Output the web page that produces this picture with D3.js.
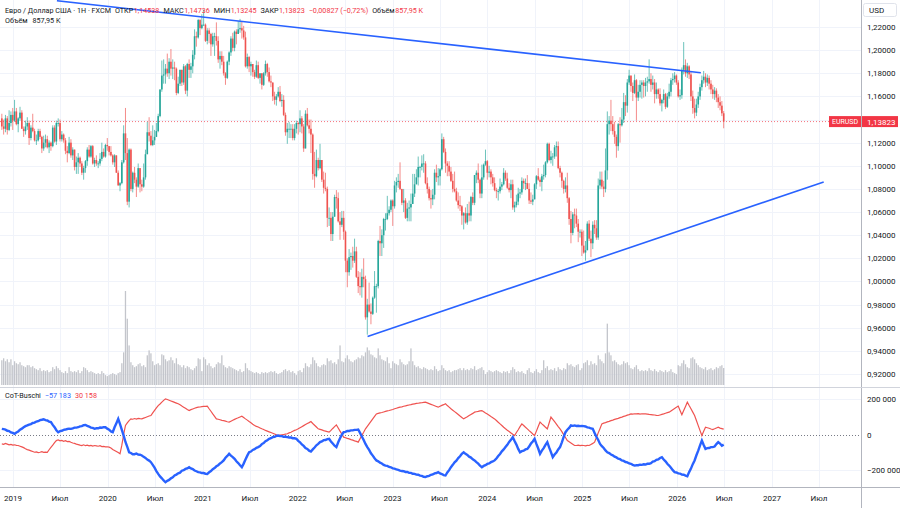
<!DOCTYPE html>
<html lang="ru">
<head>
<meta charset="utf-8">
<title>EURUSD 1Н</title>
<script src="https://cdn.jsdelivr.net/npm/d3@7"></script>
<style>
    body { margin: 0; background: #ffffff; }
    svg { display: block; font-family: Roboto, "Noto Sans", sans-serif; }
    .grid line { stroke: #f0f3fa; stroke-width: 1; }
    .scale-label { font-size: 8px; fill: #131722; }
    .legend { font-size: 7.2px; }
</style>
</head>
<body>
<div id="chart"></div>
<script>

// ---- data (weekly bars, EUR/USD, FXCM) ----
const firstWeek = new Date(Date.UTC(2018, 10, 19));
const firstOpen = 1.141;

const closes = [
    // 2018
    1.134,1.132,1.141,1.131,1.137,1.144,1.139,
    // 2019
    1.147,1.136,1.141,1.146, 1.132,1.130,1.134,1.137, 1.124,1.133,1.130,1.122, 1.122,1.130,1.125,1.115,1.120,
    1.123,1.116,1.120,1.117, 1.133,1.121,1.137,1.137, 1.123,1.127,1.122,1.113,1.111, 1.120,1.109,1.114,1.099,
    1.103,1.107,1.102,1.094,1.098, 1.104,1.114,1.108,1.117, 1.102,1.105,1.102,1.102, 1.106,1.112,1.108,1.118,1.117,
    // 2020
    1.112,1.109,1.103,1.109, 1.094,1.083,1.085,1.103, 1.128,1.111,1.069,1.114,1.080, 1.094,1.088,1.082,1.098,
    1.084,1.082,1.090,1.110, 1.129,1.126,1.118,1.122,1.125, 1.130,1.143,1.166,1.178, 1.179,1.184,1.180,1.190,1.184,
    1.185,1.184,1.163,1.171, 1.183,1.172,1.186,1.165, 1.188,1.183,1.186,1.196,1.212, 1.211,1.226,1.219,1.222,
    // 2021
    1.222,1.208,1.217,1.214, 1.205,1.212,1.212,1.208, 1.192,1.195,1.190,1.180,1.176, 1.190,1.198,1.210,1.202,
    1.216,1.214,1.218,1.219,1.217, 1.211,1.186,1.194,1.186, 1.188,1.181,1.177,1.187, 1.176,1.180,1.170,1.180,1.188,
    1.181,1.173,1.172,1.160, 1.157,1.160,1.164,1.156, 1.157,1.144,1.129,1.132,1.132, 1.132,1.124,1.132,1.137,
    // 2022
    1.136,1.141,1.134,1.115,1.145, 1.135,1.132,1.127,1.093, 1.091,1.105,1.098,1.105, 1.088,1.081,1.080,1.055,
    1.055,1.041,1.056,1.073,1.072, 1.052,1.049,1.055,1.043, 1.018,1.008,1.021,1.022, 1.018,1.026,1.004,0.996,0.995,
    1.004,1.002,0.969,0.980, 0.974,0.972,0.986,0.996,0.996, 1.035,1.033,1.040,1.054, 1.054,1.059,1.062,1.070,
    // 2023
    1.065,1.083,1.086,1.087,1.080, 1.068,1.070,1.055,1.063, 1.064,1.067,1.076,1.084, 1.090,1.099,1.099,1.102,
    1.102,1.085,1.080,1.072,1.071, 1.075,1.094,1.090,1.091, 1.097,1.123,1.112,1.102,1.100, 1.095,1.087,1.080,1.078,
    1.070,1.066,1.065,1.057, 1.059,1.051,1.059,1.057,1.073, 1.068,1.092,1.094,1.088, 1.076,1.090,1.101,1.104,
    // 2024
    1.094,1.095,1.090,1.085,1.079, 1.078,1.078,1.082,1.084, 1.094,1.089,1.081,1.079, 1.084,1.064,1.066,1.069,1.076,
    1.077,1.087,1.085,1.085, 1.080,1.070,1.069,1.071, 1.084,1.091,1.088,1.086,1.091, 1.092,1.103,1.119,1.105,
    1.108,1.108,1.116,1.117,1.098, 1.094,1.087,1.080,1.083, 1.072,1.054,1.042,1.058, 1.057,1.050,1.043,1.043,1.031,
    // 2025
    1.025,1.027,1.050,1.037, 1.033,1.049,1.046,1.038, 1.083,1.088,1.082,1.080,1.096, 1.136,1.139,1.136,1.130,
    1.125,1.117,1.136,1.135, 1.140,1.155,1.152,1.172,1.178, 1.169,1.163,1.174,1.159, 1.164,1.170,1.172,1.169,
    1.172,1.173,1.175,1.170,1.172, 1.162,1.166,1.162,1.154, 1.157,1.162,1.151,1.160, 1.164,1.174,1.175,1.178,1.172,
    // 2026
    1.160,1.161,1.183,1.187, 1.180,1.186,1.179,1.160, 1.150,1.146,1.153,1.160,1.168, 1.174,1.177,1.172,1.176,
    1.171,1.166,1.162,1.165, 1.159,1.155,1.152,1.14538,1.13823
];

const highs = [
    1.145,1.140,1.144,1.143,1.148,1.147,1.150,
    1.157,1.150,1.142,1.151, 1.148,1.134,1.139,1.142, 1.139,1.135,1.145,1.132, 1.127,1.132,1.132,1.126,1.126,
    1.127,1.126,1.122,1.121, 1.135,1.135,1.139,1.141, 1.140,1.130,1.128,1.124,1.117, 1.125,1.123,1.116,1.114,
    1.108,1.111,1.108,1.104,1.100, 1.105,1.116,1.118,1.118, 1.118,1.107,1.109,1.104, 1.111,1.120,1.115,1.119,1.124,
    1.117,1.117,1.110,1.110, 1.109,1.096,1.086,1.105, 1.135,1.150,1.124,1.115,1.115, 1.095,1.099,1.090,1.102,
    1.098,1.088,1.102,1.114, 1.138,1.142,1.130,1.135,1.131, 1.137,1.145,1.166,1.191, 1.192,1.188,1.197,1.193,1.201,
    1.192,1.190,1.185,1.177, 1.183,1.183,1.188,1.187, 1.189,1.192,1.189,1.200,1.218, 1.216,1.227,1.227,1.231,
    1.235,1.223,1.219,1.219, 1.215,1.215,1.215,1.224, 1.212,1.199,1.199,1.195,1.181, 1.191,1.199,1.212,1.215,
    1.217,1.218,1.225,1.227,1.225, 1.221,1.216,1.197,1.195, 1.190,1.188,1.183,1.191, 1.190,1.180,1.180,1.181,1.191,
    1.189,1.185,1.178,1.172, 1.164,1.162,1.168,1.169, 1.162,1.161,1.146,1.137,1.138, 1.136,1.136,1.136,1.139,
    1.138,1.148,1.143,1.136,1.148, 1.150,1.140,1.140,1.128, 1.112,1.114,1.107,1.119, 1.105,1.095,1.094,1.082,
    1.064,1.060,1.060,1.075,1.079, 1.077,1.060,1.061,1.061, 1.044,1.020,1.028,1.025, 1.030,1.037,1.030,1.009,1.008,
    1.011,1.020,1.005,0.985, 0.999,0.981,0.987,1.009,0.998, 1.036,1.048,1.045,1.055, 1.059,1.074,1.065,1.071,
    1.071,1.087,1.090,1.093,1.103, 1.080,1.080,1.072,1.068, 1.070,1.076,1.093,1.093, 1.097,1.108,1.100,1.109,
    1.110,1.104,1.090,1.082,1.079, 1.080,1.097,1.101,1.098, 1.098,1.128,1.125,1.115,1.104, 1.104,1.099,1.093,1.095,
    1.081,1.077,1.074,1.066, 1.060,1.064,1.067,1.069,1.074, 1.077,1.092,1.096,1.102, 1.089,1.101,1.102,1.114,
    1.105,1.100,1.097,1.093,1.090, 1.081,1.080,1.089,1.086, 1.098,1.096,1.094,1.085, 1.088,1.088,1.069,1.075,1.081,
    1.080,1.090,1.089,1.089, 1.092,1.085,1.077,1.075, 1.085,1.092,1.098,1.090,1.093, 1.101,1.104,1.120,1.120,
    1.113,1.111,1.118,1.121,1.121, 1.100,1.095,1.088,1.090, 1.094,1.073,1.061,1.060, 1.063,1.063,1.054,1.045,1.045,
    1.044,1.035,1.052,1.053, 1.044,1.052,1.053,1.053, 1.089,1.095,1.095,1.087,1.115, 1.147,1.143,1.157,1.143,
    1.138,1.127,1.137,1.142, 1.150,1.163,1.161,1.175,1.183, 1.178,1.172,1.179,1.175, 1.170,1.174,1.174,1.174,
    1.176,1.177,1.192,1.180,1.178, 1.175,1.172,1.167,1.167, 1.158,1.166,1.163,1.163, 1.171,1.176,1.180,1.181,1.179,
    1.174,1.166,1.185,1.207, 1.192,1.189,1.187,1.182, 1.165,1.158,1.158,1.164,1.171, 1.178,1.182,1.180,1.179,
    1.178,1.174,1.170,1.168, 1.167,1.162,1.160,1.156,1.14736
];

const lows = [
    1.131,1.127,1.129,1.127,1.130,1.134,1.131,
    1.138,1.135,1.129,1.139, 1.132,1.125,1.127,1.131, 1.118,1.122,1.129,1.121, 1.118,1.121,1.123,1.111,1.113,
    1.116,1.115,1.111,1.113, 1.116,1.120,1.118,1.134, 1.121,1.121,1.120,1.110,1.103, 1.110,1.107,1.105,1.096,
    1.093,1.093,1.099,1.092,1.088, 1.094,1.100,1.107,1.107, 1.101,1.099,1.100,1.098, 1.100,1.104,1.107,1.107,1.113,
    1.109,1.108,1.101,1.099, 1.094,1.083,1.078,1.084, 1.102,1.105,1.066,1.064,1.078, 1.077,1.085,1.073,1.081,
    1.077,1.078,1.081,1.088, 1.110,1.121,1.117,1.117,1.118, 1.125,1.129,1.142,1.164, 1.171,1.171,1.177,1.175,1.178,
    1.175,1.174,1.161,1.162, 1.169,1.169,1.170,1.162, 1.160,1.176,1.176,1.180,1.192, 1.203,1.210,1.213,1.218,
    1.221,1.207,1.205,1.206, 1.195,1.203,1.195,1.204, 1.189,1.184,1.187,1.178,1.170, 1.175,1.187,1.195,1.199,
    1.199,1.205,1.214,1.215,1.210, 1.209,1.185,1.184,1.181, 1.178,1.177,1.175,1.176, 1.175,1.171,1.166,1.169,1.178,
    1.177,1.172,1.168,1.156, 1.153,1.152,1.159,1.155, 1.151,1.143,1.126,1.119,1.124, 1.124,1.122,1.122,1.128,
    1.127,1.129,1.128,1.112,1.115, 1.134,1.128,1.111,1.088, 1.081,1.090,1.096,1.097, 1.086,1.076,1.078,1.047,
    1.048,1.035,1.035,1.056,1.063, 1.051,1.036,1.047,1.036, 1.008,0.995,1.005,1.010, 1.012,1.016,1.003,0.990,0.988,
    0.986,0.995,0.967,0.954, 0.973,0.963,0.971,0.985,0.973, 0.994,1.022,1.022,1.029, 1.044,1.053,1.057,1.060,
    1.048,1.063,1.077,1.081,1.079, 1.066,1.060,1.054,1.052, 1.052,1.052,1.071,1.073, 1.084,1.083,1.090,1.096,
    1.094,1.084,1.076,1.070,1.063, 1.066,1.071,1.086,1.083, 1.083,1.096,1.111,1.094,1.091, 1.091,1.086,1.077,1.077,
    1.069,1.063,1.061,1.049, 1.045,1.050,1.049,1.052,1.052, 1.066,1.066,1.085,1.085, 1.072,1.072,1.088,1.100,
    1.088,1.090,1.084,1.082,1.078, 1.072,1.070,1.076,1.079, 1.083,1.087,1.080,1.077, 1.072,1.062,1.060,1.064,1.066,
    1.072,1.075,1.080,1.079, 1.080,1.067,1.067,1.066, 1.071,1.080,1.087,1.082,1.078, 1.088,1.090,1.102,1.104,
    1.102,1.100,1.106,1.108,1.097, 1.090,1.081,1.076,1.077, 1.068,1.049,1.033,1.040, 1.046,1.047,1.034,1.038,1.022,
    1.024,1.018,1.027,1.035, 1.021,1.028,1.041,1.036, 1.036,1.080,1.080,1.073,1.077, 1.088,1.127,1.130,1.127,
    1.119,1.107,1.113,1.120, 1.134,1.137,1.143,1.146,1.170, 1.164,1.156,1.162,1.139, 1.156,1.159,1.158,1.159,
    1.160,1.164,1.171,1.164,1.166, 1.154,1.158,1.158,1.152, 1.147,1.154,1.149,1.150, 1.158,1.160,1.170,1.172,1.170,
    1.159,1.157,1.158,1.179, 1.177,1.176,1.175,1.156, 1.145,1.141,1.143,1.150,1.157, 1.165,1.171,1.168,1.169,
    1.166,1.162,1.158,1.157, 1.155,1.150,1.148,1.143,1.13245
];

// weekly volume, thousands
const volumes = [
    1250,1350,1200,1300,1150,1300,1000,
    1200,1100,1050,1150,1000,950,900,1000, 1000,900,950,850,800,750,850,700,750,
    700,750,650,700,900,800,950,850, 750,650,600,700,600,900,700,650,700,
    650,750,600,700,900,850,750,650,700, 650,600,550,600,550,700,600,500,450,
    500,550,600,550,500,600,650,1100, 1650,4750,3350,2000,1150,
    1000,900,950,1050,1100,950,1000,900, 1500,1750,1600,1200,1000,
    1050,1100,1000,1550,1500,1300,1200,1250,1400, 1250,1100,1350,1050,1000,900,1000,850,
    950,900,800,750,850,950,1350,1300,700,
    1400,1300,1000,1100,950,850,900,1050, 1150,1100,1500,1000,900,850,950,900,850,
    800,750,700,800,650,700,1100,850,750, 700,650,600,650,600,550,650,600,650,
    600,650,700,650,700,600,550,600, 650,750,800,700,750,650,700,600,500,
    700,750,650,850,1100,950,900,1050, 1400,1250,1100,950,900,1000,1050,1000,1350,
    1200,1250,1100,1150,1050,1300,2000,1200,1150, 1350,1500,1300,1200,1150,1250,1300,1400,1350,
    1500,1450,1650,1900,1750,1550,1500,1400,1350, 1850,1500,1300,1250,1200,1400,1100,850,
    1200,1100,1050,1000,1300,1150,1050,1000, 1050,1200,1850,1200,1000,900,950,850,800,
    900,850,800,750,800,750,950,800,700, 750,1000,850,750,700,750,650,700,750,
    750,800,850,750,850,750,800,750,850, 800,950,750,800,850,900,750,550,
    650,750,700,650,700,750,700,650,600, 700,650,700,600,750,900,800,650,700,
    650,700,600,550,750,850,650,600, 700,800,650,600,750,1250,850,950,750,
    800,750,850,700,900,800,750,850,800, 1100,1000,1050,950,900,1000,1050,750,850,
    1100,1150,1250,1000,1200,1050,1100,1000, 1500,1300,1200,1100,1600,3100,1650,1500,1200,
    1250,1150,1050,1000,1050,1200,1100,1150,1000, 850,800,900,1000,800,700,750,700,
    750,700,850,750,700,800,700,650,750, 700,650,750,650,700,800,650,600,550,
    1000,950,1100,1250,1050,900,850,1350, 1400,1300,1100,1000,900,
    850,800,900,750,800,850,750,800, 900,850,950,1000,858
];

// CoT-Buschi, thousands of contracts
const cotBlue = [
    32,30,27,21,19,12,9,4, 11,17,27,33,41, 47,51,56,59,65,67,73,75,81,83, 86,81,79,73,70, 54,41,24,13,
    19,21,26,28, 31,33,32,35,39,39,41, 46,47,52,54, 49,45,39,37,32, 35,35,39,38,41,41, 33,27,17,13,
    41,64,88, 58,26,-6, -42,-70,-100, -104,-111,-111,-107,-113,-114,-118, -126,-132,-141,-147,-156,
    -171,-187,-206,-222, -236,-247,-259,-269, -261,-256,-247,-241,-231, -226,-219,-215,-204,-201,-194,-191,-184,
    -191,-195,-203,-207,-212, -213,-217,-217,-221,-222, -213,-206,-195,-189,-179,-173,-163,-156,
    -146,-131,-121,-109, -119,-127,-137, -151,-161,-173,-184, -164,-141,-119,-100, -96,-87,-83,-75,-71,
    -65,-54,-48,-38,-32,-24, -21,-15,-13,-8,-6, -9,-9,-13,-13,-15, -17,-17,-21,-21,-24,
    -36,-44,-56,-64,-76,-81,-91,-96, -84,-73,-61,-53,-43, -39,-32,-31,-26,-24, -39,-51,-63,-71,
    -44,-21,-1,13, 15,20,20,23,23,26,26,28, 9,-11,-31,-53, -71,-87,-106,-119,-134,-146,
    -151,-159,-163,-171,-175, -177,-183,-185,-191,-192,-197,-199,-203, -206,-207,-211,-211,-216,-216,-221,-222,
    -226,-227,-232,-233,-238,-240, -235,-233,-227,-225,-219,-217,-212, -219,-223,-229,-231, -214,-201,-184,
    -171,-157,-147,-133,-123,-109,-100, -109,-115,-125,-130,-140,-146, -156,-164,-176,-184,
    -177,-173,-166,-163,-156,-152,-146, -135,-121,-110,-95,-84,-71, -58,-42,-30,-15, -37,-57,-81,-100,
    -94,-91,-84,-81, -68,-51,-39,-24, -53,-79,-109, -91,-77,-59,-43, -73,-99,-128, -113,-101,-84,-71,
    -44,-14,13, 27,37,51, 49,51,48,49,47,48,47, 45,40,39,34,32, 9,-13,-31,-53, -66,-76,-90,-100,
    -105,-113,-117,-125,-129,-136,-139,-146, -149,-155,-157,-163,-165,-171,-175,
    -173,-173,-170,-171,-168,-169,-165,-165, -161,-153,-150,-143,-140,-132,-128, -141,-151,-165,-175,
    -187,-201,-212, -214,-219,-220,-226,-227,-232,-235, -212,-192,-167,-146, -117,-91,-61,-34,
    -59,-81, -77,-76,-71,-71,-68, -54,-43,-51,-63,-57.183
];

const cotRed = [
    -53,-55,-50,-54,-58,-56,-60,-58,-61,-62, -66,-70,-74,-80,-85,-88,-92,-96,-100, -98,-102,-100,-97,-101,-99,-100,
    -86,-72,-60,-46,-34, -30,-36,-33,-38,-35,-40,-39, -44,-48,-50,-54,-57,-60,-62, -58,-63,-60,-64,-61,-65,-62,
    -64,-66,-63,-68,-67,-70,-69,-71, -76,-84,-90,-96,-102,-109, -60,0,51, 65,78,88, 86,90,87,91,89,88,
    92,96,100,104,107, 122,136,150,163, 172,182,192,201, 197,193,189,185,181,177,173, 167,160,154,148,141,135,
    140,144,148,151,154, 155,157,158,159,160, 145,131,116,102,88, 86,83,80,78,75,72,70, 75,80,85,90,94,99,103,
    96,88,81,73,66,58,51, 46,42,37,32,28,23, 19,15,11,7,3,-2,-6, -4,-2,0,2,4, 9,13,18,23,27,32,
    38,44,50,56,62,67,73, 62,52,42,32, 29,26,22,19,16,13, 23,34,44,54, 37,19,2,-15,
    -18,-22,-25,-29,-32,-36,-39,-43, -24,-5,13,32, 46,60,74,88,102,116, 119,122,124,127,130,133,135,
    138,141,145,148,151,154, 156,159,161,164,166,168,171,173, 175,176,178,179,181,182,
    178,174,170,166,162,158,154, 159,164,168,173, 163,154,145, 137,129,121,113,104,96,88,
    94,100,107,113,119,126, 128,130,133,135, 128,121,115,108,101,95,88, 79,69,60,51,41,32,
    24,17,9,1,-6, 11,27,44,60, 51,41,32, 22,13,3,-6, 19,45,70, 60,51,41,32, 65,98, 85,72,59,45,32,
    16,-1,-17,-34, -41,-48,-55,-62, -62,-60,-63,-61,-62,-64,-61,-62, -56,-50,-43, -17,9,34,60,
    64,67,71,74,78,81,85,88, 91,95,98,102,105,109,112,116, 115,117,116,118,115,117,116,116,
    115,113,112,111,110,108,107, 110,113,116,120,123,126, 133,140,147,153,160, 135,111, 135,158,182,
    163,145,126,107, 79,50,22,-6, 18,41, 38,35,31,28, 32,37,41, 36,33,30.158
];

const priceTicks = [0.92,0.94,0.96,0.98,1.00,1.02,1.04,1.06,1.08,1.10,1.12,1.14,1.16,1.18,1.20,1.22];
const cotTicks = [-200, 200];
const timeTicks = [
    ["2019-01-01","2019"],["2019-07-01","Июл"],["2020-01-01","2020"],["2020-07-01","Июл"],
    ["2021-01-01","2021"],["2021-07-01","Июл"],["2022-01-01","2022"],["2022-07-01","Июл"],
    ["2023-01-01","2023"],["2023-07-01","Июл"],["2024-01-01","2024"],["2024-07-01","Июл"],
    ["2025-01-01","2025"],["2025-07-01","Июл"],["2026-01-01","2026"],["2026-07-01","Июл"],
    ["2027-01-01","2027"],["2027-07-01","Июл"]
];

// trend lines: [date, price] anchors
const upperTrend = [["2019-06-19", 1.2427], ["2026-04-02", 1.1805]];
const lowerTrend = [["2022-09-27", 0.9525], ["2027-07-19", 1.0860]];

const lastBar = {open: 1.14538, high: 1.14736, low: 1.13245, close: 1.13823, change: -0.00827, pct: -0.72};


class CandleVis {

    constructor(_parentElement, _bars) {
        this.parentElement = _parentElement;
        this.bars = _bars;

        this.initVis();
    }

    initVis() {
        let vis = this;

        vis.width = 900;
        vis.height = 508;
        vis.plotRight = 861;
        vis.priceBottom = 387;
        vis.cotTop = 388;
        vis.cotBottom = 487;

        vis.up = "#26a69a";
        vis.down = "#ef5350";
        vis.tag = "#f23645";
        vis.blue = "#2962ff";

        vis.svg = d3.select("#" + vis.parentElement).append("svg")
            .attr("width", vis.width)
            .attr("height", vis.height);

        vis.svg.append("rect")
            .attr("width", vis.width)
            .attr("height", vis.height)
            .attr("fill", "#ffffff");

        let defs = vis.svg.append("defs");
        defs.append("clipPath").attr("id", "clip-price")
            .append("rect").attr("width", vis.plotRight).attr("height", vis.priceBottom);
        defs.append("clipPath").attr("id", "clip-cot")
            .append("rect").attr("y", vis.cotTop).attr("width", vis.plotRight)
            .attr("height", vis.cotBottom - vis.cotTop);

        // scales
        vis.x = d3.scaleUtc()
            .domain([new Date(Date.UTC(2019, 0, 1)), new Date(Date.UTC(2027, 0, 1))])
            .range([13, 772]);

        vis.y = d3.scaleLinear()
            .domain([0.92, 1.22])
            .range([374, 27]);

        vis.yVol = d3.scaleLinear()
            .domain([0, 4800])
            .range([385, 290]);

        vis.yCot = d3.scaleLinear()
            .domain([-200, 200])
            .range([470, 399]);

        vis.drawGrid();
        vis.drawVolume();
        vis.drawCandles();
        vis.drawTrends();
        vis.drawCot();
        vis.drawScales();
        vis.drawLegend();
    }

    drawGrid() {
        let vis = this;
        let grid = vis.svg.append("g").attr("class", "grid");

        grid.selectAll(".vgrid")
            .data(timeTicks)
            .enter().append("line")
            .attr("x1", d => Math.round(vis.x(new Date(d[0]))) + 0.5)
            .attr("x2", d => Math.round(vis.x(new Date(d[0]))) + 0.5)
            .attr("y1", 0)
            .attr("y2", vis.cotBottom);

        grid.selectAll(".hgrid")
            .data(priceTicks)
            .enter().append("line")
            .attr("x1", 0)
            .attr("x2", vis.plotRight)
            .attr("y1", d => Math.round(vis.y(d)) + 0.5)
            .attr("y2", d => Math.round(vis.y(d)) + 0.5);

        grid.selectAll(".cgrid")
            .data(cotTicks)
            .enter().append("line")
            .attr("x1", 0)
            .attr("x2", vis.plotRight)
            .attr("y1", d => Math.round(vis.yCot(d)) + 0.5)
            .attr("y2", d => Math.round(vis.yCot(d)) + 0.5);
    }

    drawVolume() {
        let vis = this;
        vis.svg.append("g")
            .attr("clip-path", "url(#clip-price)")
            .selectAll("rect")
            .data(vis.bars)
            .enter().append("rect")
            .attr("x", d => vis.x(d.date) - 0.65)
            .attr("width", 1.3)
            .attr("y", d => vis.yVol(d.volume))
            .attr("height", d => vis.yVol(0) - vis.yVol(d.volume))
            .attr("fill", "#c3c5cb");
    }

    drawCandles() {
        let vis = this;
        let g = vis.svg.append("g").attr("clip-path", "url(#clip-price)");

        // price line of the last close
        g.append("line")
            .attr("x1", 0)
            .attr("x2", vis.plotRight)
            .attr("y1", vis.y(lastBar.close))
            .attr("y2", vis.y(lastBar.close))
            .attr("stroke", vis.tag)
            .attr("stroke-opacity", 0.7)
            .attr("stroke-dasharray", "1,2");

        let candle = g.selectAll(".candle")
            .data(vis.bars)
            .enter().append("g")
            .attr("class", "candle");

        candle.append("line")
            .attr("x1", d => vis.x(d.date))
            .attr("x2", d => vis.x(d.date))
            .attr("y1", d => vis.y(d.high))
            .attr("y2", d => vis.y(d.low))
            .attr("stroke", d => d.close >= d.open ? vis.up : vis.down)
            .attr("stroke-opacity", 0.75)
            .attr("stroke-width", 0.9);

        candle.append("rect")
            .attr("x", d => vis.x(d.date) - 0.8)
            .attr("width", 1.6)
            .attr("y", d => vis.y(Math.max(d.open, d.close)))
            .attr("height", d => Math.max(0.8, Math.abs(vis.y(d.open) - vis.y(d.close))))
            .attr("fill", d => d.close >= d.open ? vis.up : vis.down);
    }

    drawTrends() {
        let vis = this;
        let line = d3.line()
            .x(d => vis.x(new Date(d[0])))
            .y(d => vis.y(d[1]));

        vis.svg.append("g")
            .attr("clip-path", "url(#clip-price)")
            .selectAll("path")
            .data([upperTrend, lowerTrend])
            .enter().append("path")
            .attr("d", line)
            .attr("fill", "none")
            .attr("stroke", vis.blue)
            .attr("stroke-width", 1.6);
    }

    drawCot() {
        let vis = this;
        let g = vis.svg.append("g").attr("clip-path", "url(#clip-cot)");

        g.append("line")
            .attr("x1", 0)
            .attr("x2", vis.plotRight)
            .attr("y1", Math.round(vis.yCot(0)) + 0.5)
            .attr("y2", Math.round(vis.yCot(0)) + 0.5)
            .attr("stroke", "#787b86")
            .attr("stroke-dasharray", "1,2");

        let line = d3.line()
            .x((d, i) => vis.x(vis.bars[i].date))
            .y(d => vis.yCot(d));

        g.append("path")
            .datum(cotRed)
            .attr("d", line)
            .attr("fill", "none")
            .attr("stroke", vis.down)
            .attr("stroke-width", 1.2);

        g.append("path")
            .datum(cotBlue)
            .attr("d", line)
            .attr("fill", "none")
            .attr("stroke", vis.blue)
            .attr("stroke-width", 2.4);
    }

    drawScales() {
        let vis = this;
        let fmtPrice = d => d3.format(".5f")(d).replace(".", ",");
        let fmtCot = d => d3.format(",")(d * 1000).replace(/,/g, "\u00a0").replace("-", "\u2212");
        let yc = vis.y(lastBar.close);

        // borders
        vis.svg.append("line")
            .attr("x1", vis.plotRight + 0.5).attr("x2", vis.plotRight + 0.5)
            .attr("y1", 0).attr("y2", vis.height)
            .attr("stroke", "#b2b5be");
        vis.svg.append("line")
            .attr("x1", 0).attr("x2", vis.width)
            .attr("y1", vis.priceBottom + 0.5).attr("y2", vis.priceBottom + 0.5)
            .attr("stroke", "#d1d4dc");
        vis.svg.append("line")
            .attr("x1", 0).attr("x2", vis.width)
            .attr("y1", vis.cotBottom + 0.5).attr("y2", vis.cotBottom + 0.5)
            .attr("stroke", "#b2b5be");

        // price axis (labels under the last-price tag are hidden, as on the scale)
        vis.svg.append("g")
            .selectAll("text")
            .data(priceTicks.filter(d => Math.abs(vis.y(d) - yc) > 9))
            .enter().append("text")
            .attr("class", "scale-label")
            .attr("x", 867)
            .attr("y", d => vis.y(d) + 3)
            .text(fmtPrice);

        // currency box
        vis.svg.append("rect")
            .attr("x", 863.5).attr("y", 3.5)
            .attr("width", 33).attr("height", 13)
            .attr("rx", 2)
            .attr("fill", "#ffffff")
            .attr("stroke", "#e0e3eb");
        vis.svg.append("text")
            .attr("class", "scale-label")
            .attr("x", 869).attr("y", 13)
            .text("USD");

        // last price tags
        vis.svg.append("rect")
            .attr("x", 829).attr("y", yc - 5.5)
            .attr("width", 32).attr("height", 11)
            .attr("fill", vis.tag);
        vis.svg.append("text")
            .attr("x", 845).attr("y", yc + 2.7)
            .attr("text-anchor", "middle")
            .attr("fill", "#ffffff")
            .attr("font-size", "7px")
            .text("EURUSD");
        vis.svg.append("rect")
            .attr("x", 862).attr("y", yc - 5.5)
            .attr("width", 36).attr("height", 11)
            .attr("fill", vis.tag);
        vis.svg.append("text")
            .attr("x", 867).attr("y", yc + 3)
            .attr("fill", "#ffffff")
            .attr("font-size", "8px")
            .text(fmtPrice(lastBar.close));

        // CoT axis
        vis.svg.append("g")
            .selectAll("text")
            .data([200, 0, -200])
            .enter().append("text")
            .attr("class", "scale-label")
            .attr("x", 867)
            .attr("y", d => vis.yCot(d) + 3)
            .text(fmtCot);

        // time axis
        vis.svg.append("g")
            .selectAll("text")
            .data(timeTicks)
            .enter().append("text")
            .attr("class", "scale-label")
            .attr("x", d => vis.x(new Date(d[0])))
            .attr("y", 501)
            .attr("text-anchor", "middle")
            .text(d => d[1]);
    }

    drawLegend() {
        let vis = this;
        let fmt = d => d3.format(".5f")(d).replace(".", ",");
        let red = vis.tag, dark = "#131722";

        // [text, colour, gap before]
        let header = [
            ["Евро / Доллар США · 1Н · FXCM", dark, 0],
            ["ОТКР", dark, 4], [fmt(lastBar.open), red, 0.5],
            ["МАКС", dark, 4], [fmt(lastBar.high), red, 0.5],
            ["МИН", dark, 4], [fmt(lastBar.low), red, 0.5],
            ["ЗАКР", dark, 4], [fmt(lastBar.close), red, 0.5],
            ["\u2212" + fmt(-lastBar.change) + " (\u2212" + d3.format(".2f")(-lastBar.pct).replace(".", ",") + "%)", red, 4],
            ["Объём", dark, 4], ["857,95 K", red, 0.5]
        ];

        vis.svg.append("text")
            .attr("class", "legend")
            .attr("x", 5)
            .attr("y", 12.5)
            .selectAll("tspan")
            .data(header)
            .enter().append("tspan")
            .attr("dx", d => d[2])
            .attr("fill", d => d[1])
            .text(d => d[0]);

        vis.svg.append("text")
            .attr("class", "legend")
            .attr("x", 5).attr("y", 22.5)
            .selectAll("tspan")
            .data([["Объём", dark, 0], ["857,95 K", dark, 5]])
            .enter().append("tspan")
            .attr("dx", d => d[2])
            .attr("fill", d => d[1])
            .text(d => d[0]);

        // CoT legend
        vis.svg.append("text")
            .attr("class", "legend")
            .attr("x", 5).attr("y", 398)
            .selectAll("tspan")
            .data([["CoT-Buschi", dark, 0], ["\u221257\u00a0183", vis.blue, 4], ["30\u00a0158", red, 4]])
            .enter().append("tspan")
            .attr("dx", d => d[2])
            .attr("fill", d => d[1])
            .text(d => d[0]);
    }
}


let bars = closes.map((c, i) => ({
    date: d3.utcDay.offset(firstWeek, 7 * i),
    open: i === 0 ? firstOpen : closes[i - 1],
    close: c,
    high: highs[i],
    low: lows[i],
    volume: volumes[i]
}));

new CandleVis("chart", bars);

</script>
</body>
</html>
